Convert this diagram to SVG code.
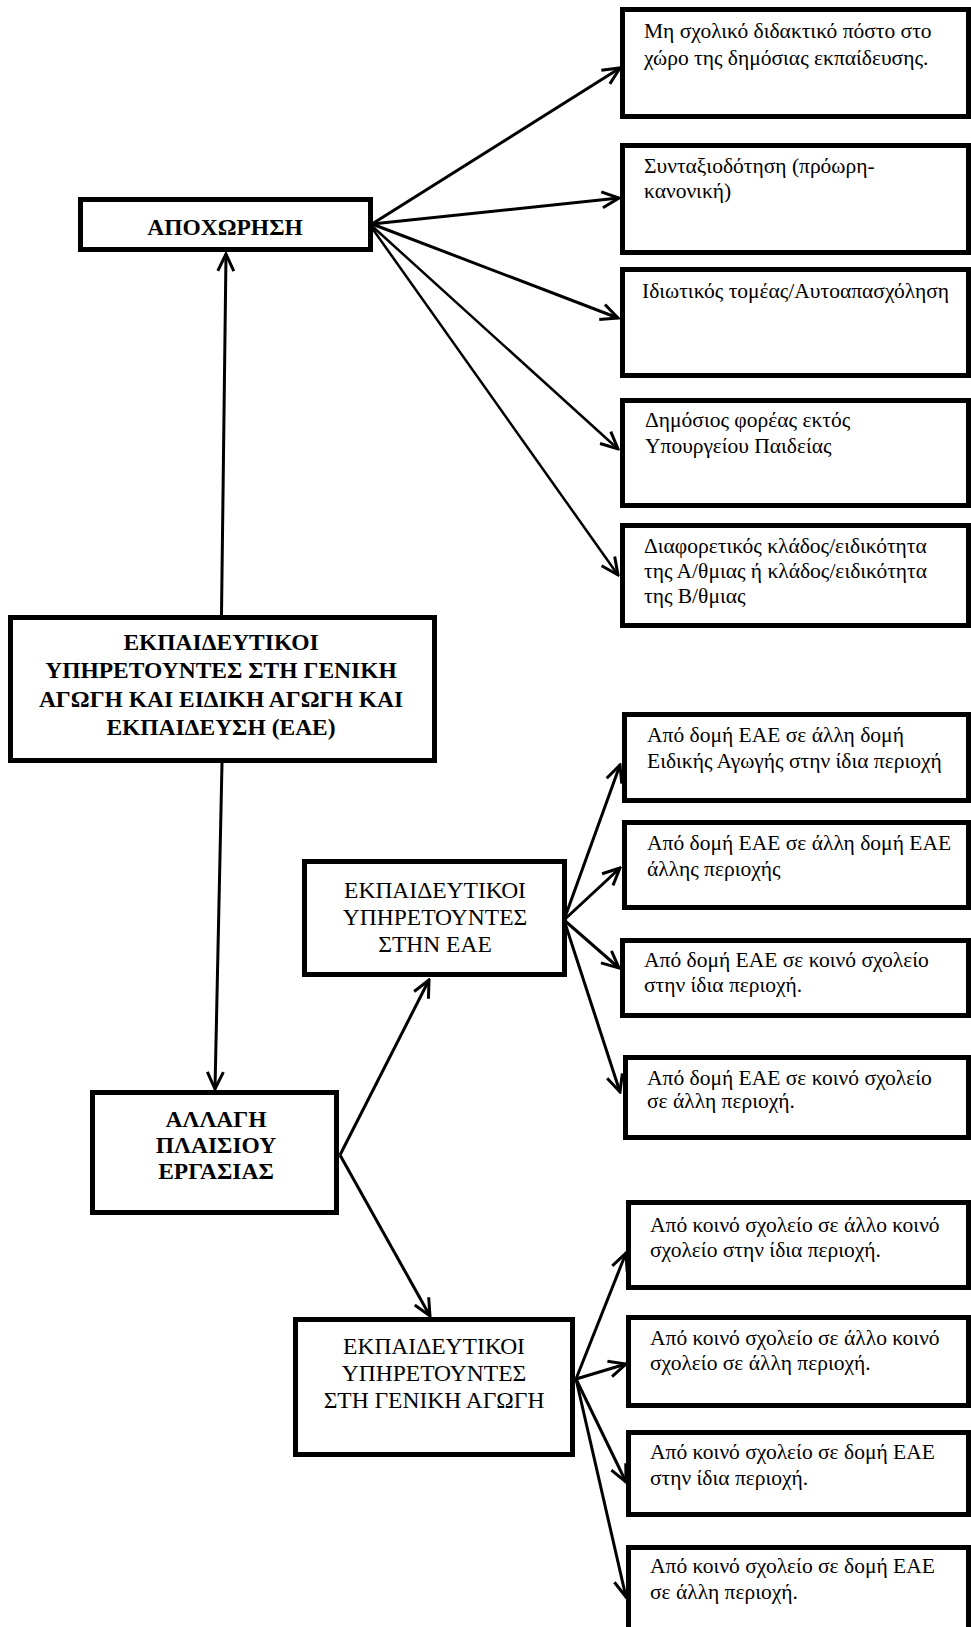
<svg xmlns="http://www.w3.org/2000/svg" width="971" height="1627" viewBox="0 0 971 1627">
<style>
.box{fill:#fff;stroke:#000;stroke-width:5}
.t{font-family:"Liberation Serif","Times New Roman",serif;font-size:21.5px;fill:#000}
.b{font-family:"Liberation Serif","Times New Roman",serif;font-size:23.5px;font-weight:bold;fill:#000;text-anchor:middle}
.m{font-family:"Liberation Serif","Times New Roman",serif;font-size:23.5px;fill:#000;text-anchor:middle}
.c{stroke:#000;stroke-width:3;fill:none;marker-end:url(#ah)}
</style>
<defs>
<marker id="ah" markerUnits="userSpaceOnUse" viewBox="0 0 22 22" markerWidth="22" markerHeight="22" refX="20" refY="11" orient="auto">
<path d="M3,3 L20,11 L3,19" fill="none" stroke="#000" stroke-width="3"/>
</marker>
</defs>
<g id="connectors">
<line class="c" x1="221.5" y1="615" x2="226" y2="254"/>
<line class="c" x1="222" y1="763" x2="215" y2="1089"/>
<line class="c" x1="372" y1="224" x2="620" y2="68"/>
<line class="c" x1="372" y1="224" x2="619" y2="198"/>
<line class="c" x1="372" y1="224" x2="618" y2="318"/>
<line class="c" x1="372" y1="226" x2="618" y2="449" style="stroke-width:2.5"/>
<line class="c" x1="372" y1="228" x2="618" y2="575" style="stroke-width:2.5"/>
<line class="c" x1="340" y1="1155" x2="429" y2="980"/>
<line class="c" x1="340" y1="1155" x2="430" y2="1316"/>
<line class="c" x1="564" y1="920" x2="620" y2="765"/>
<line class="c" x1="564" y1="920" x2="620" y2="868"/>
<line class="c" x1="564" y1="920" x2="619" y2="968"/>
<line class="c" x1="564" y1="920" x2="620" y2="1092"/>
<line class="c" x1="576" y1="1379" x2="626" y2="1253"/>
<line class="c" x1="576" y1="1379" x2="626" y2="1364"/>
<line class="c" x1="576" y1="1379" x2="626" y2="1482"/>
<line class="c" x1="576" y1="1379" x2="626" y2="1597"/>
</g>
<g id="apoxorisi">
<rect class="box" x="80.5" y="199.5" width="290" height="50"/>
<text class="b" x="225" y="235">ΑΠΟΧΩΡΗΣΗ</text>
</g>
<g id="main">
<rect class="box" x="10.5" y="617.5" width="424" height="143"/>
<text class="b" x="221" y="650">ΕΚΠΑΙΔΕΥΤΙΚΟΙ</text>
<text class="b" x="221" y="678">ΥΠΗΡΕΤΟΥΝΤΕΣ ΣΤΗ ΓΕΝΙΚΗ</text>
<text class="b" x="221" y="707">ΑΓΩΓΗ ΚΑΙ ΕΙΔΙΚΗ ΑΓΩΓΗ ΚΑΙ</text>
<text class="b" x="221" y="735">ΕΚΠΑΙΔΕΥΣΗ (ΕΑΕ)</text>
</g>
<g id="allagi">
<rect class="box" x="92.5" y="1092.5" width="244" height="120"/>
<text class="b" x="216" y="1127">ΑΛΛΑΓΗ</text>
<text class="b" x="216" y="1153">ΠΛΑΙΣΙΟΥ</text>
<text class="b" x="216" y="1179">ΕΡΓΑΣΙΑΣ</text>
</g>
<g id="eae">
<rect class="box" x="304.5" y="861.5" width="260" height="113"/>
<text class="m" x="435" y="898">ΕΚΠΑΙΔΕΥΤΙΚΟΙ</text>
<text class="m" x="435" y="925">ΥΠΗΡΕΤΟΥΝΤΕΣ</text>
<text class="m" x="435" y="952">ΣΤΗΝ ΕΑΕ</text>
</g>
<g id="geniki">
<rect class="box" x="295.5" y="1319.5" width="277" height="135"/>
<text class="m" x="434" y="1354">ΕΚΠΑΙΔΕΥΤΙΚΟΙ</text>
<text class="m" x="434" y="1381">ΥΠΗΡΕΤΟΥΝΤΕΣ</text>
<text class="m" x="434" y="1408">ΣΤΗ ΓΕΝΙΚΗ ΑΓΩΓΗ</text>
</g>
<g id="r1">
<rect class="box" x="622.5" y="9.5" width="346" height="107"/>
<text class="t" x="644" y="38">Μη σχολικό διδακτικό πόστο στο</text>
<text class="t" x="644" y="65">χώρο της δημόσιας εκπαίδευσης.</text>
</g>
<g id="r2">
<rect class="box" x="622.5" y="145.5" width="346" height="107"/>
<text class="t" x="644" y="173">Συνταξιοδότηση (πρόωρη-</text>
<text class="t" x="644" y="198">κανονική)</text>
</g>
<g id="r3">
<rect class="box" x="622.5" y="269.5" width="346" height="106"/>
<text class="t" x="642" y="298">Ιδιωτικός τομέας/Αυτοαπασχόληση</text>
</g>
<g id="r4">
<rect class="box" x="622.5" y="400.5" width="346" height="105"/>
<text class="t" x="645" y="427">Δημόσιος φορέας εκτός</text>
<text class="t" x="645" y="453">Υπουργείου Παιδείας</text>
</g>
<g id="r5">
<rect class="box" x="622.5" y="525.5" width="346" height="100"/>
<text class="t" x="644" y="553">Διαφορετικός κλάδος/ειδικότητα</text>
<text class="t" x="644" y="578">της Α/θμιας ή κλάδος/ειδικότητα</text>
<text class="t" x="644" y="603">της Β/θμιας</text>
</g>
<g id="r6">
<rect class="box" x="624.5" y="714.5" width="344" height="86"/>
<text class="t" x="647" y="742">Από δομή ΕΑΕ σε άλλη δομή</text>
<text class="t" x="647" y="768">Ειδικής Αγωγής στην ίδια περιοχή</text>
</g>
<g id="r7">
<rect class="box" x="624.5" y="822.5" width="344" height="85"/>
<text class="t" x="647" y="850">Από δομή ΕΑΕ σε άλλη δομή ΕΑΕ</text>
<text class="t" x="647" y="876">άλλης περιοχής</text>
</g>
<g id="r8">
<rect class="box" x="622.5" y="940.5" width="346" height="75"/>
<text class="t" x="644" y="967">Από δομή ΕΑΕ σε κοινό σχολείο</text>
<text class="t" x="644" y="992">στην ίδια περιοχή.</text>
</g>
<g id="r9">
<rect class="box" x="625.5" y="1057.5" width="343" height="80"/>
<text class="t" x="647" y="1085">Από δομή ΕΑΕ σε κοινό σχολείο</text>
<text class="t" x="647" y="1108">σε άλλη περιοχή.</text>
</g>
<g id="r10">
<rect class="box" x="628.5" y="1202.5" width="340" height="85"/>
<text class="t" x="650" y="1232">Από κοινό σχολείο σε άλλο κοινό</text>
<text class="t" x="650" y="1257">σχολείο στην ίδια περιοχή.</text>
</g>
<g id="r11">
<rect class="box" x="628.5" y="1317.5" width="340" height="88"/>
<text class="t" x="650" y="1345">Από κοινό σχολείο σε άλλο κοινό</text>
<text class="t" x="650" y="1370">σχολείο σε άλλη περιοχή.</text>
</g>
<g id="r12">
<rect class="box" x="628.5" y="1432.5" width="340" height="82"/>
<text class="t" x="650" y="1459">Από κοινό σχολείο σε δομή ΕΑΕ</text>
<text class="t" x="650" y="1485">στην ίδια περιοχή.</text>
</g>
<g id="r13">
<rect class="box" x="628.5" y="1547.5" width="340" height="110"/>
<text class="t" x="650" y="1573">Από κοινό σχολείο σε δομή ΕΑΕ</text>
<text class="t" x="650" y="1599">σε άλλη περιοχή.</text>
</g>
</svg>
